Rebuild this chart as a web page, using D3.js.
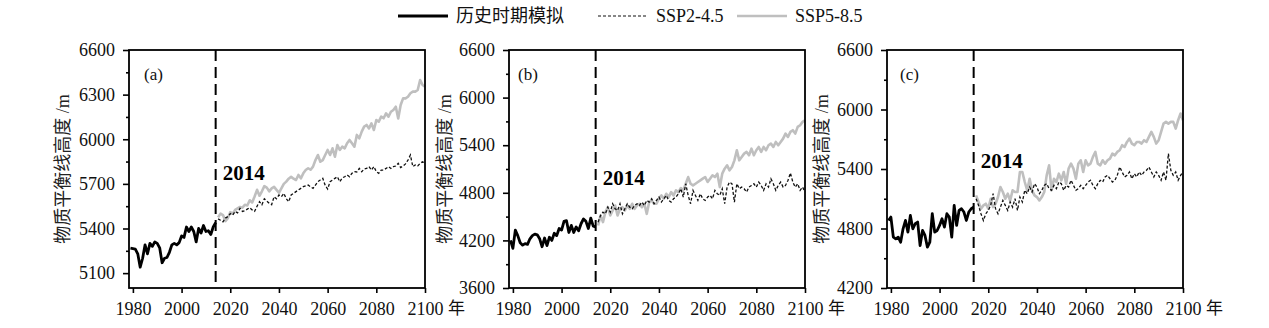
<!DOCTYPE html>
<html><head><meta charset="utf-8">
<script src="https://cdn.jsdelivr.net/npm/d3@7"></script>
<style>body{margin:0;background:#fff;} svg{display:block;}</style>
</head><body>
<svg id="chart" width="1269" height="328"></svg>
<script>
// ---------- data ----------
const histYears = d3.range(1979, 2015);   // 1979..2014
const sspYears  = d3.range(2015, 2101);   // 2015..2100
const xTicks = [1980, 2000, 2020, 2040, 2060, 2080, 2100];

const histA = [5268,5265,5262,5230,5140,5200,5290,5230,5300,5280,5310,5300,5270,5170,5200,5205,5240,5290,5300,5290,5305,5350,5340,5410,5380,5410,5380,5310,5400,5370,5420,5380,5385,5360,5410,5440];
const ssp245A = [5465,5455,5445,5470,5480,5500,5490,5515,5505,5535,
  5515,5520,5530,5540,5525,5515,5550,5580,5560,5600,
  5585,5570,5560,5614,5600,5625,5614,5636,5600,5580,
  5625,5636,5648,5659,5670,5681,5686,5692,5680,5670,
  5692,5715,5726,5737,5690,5665,5715,5726,5737,5748,
  5715,5740,5748,5760,5748,5771,5782,5780,5804,5782,
  5800,5804,5816,5793,5816,5782,5771,5793,5793,5804,
  5816,5804,5816,5820,5838,5810,5820,5834,5860,5894,
  5816,5827,5820,5838,5849,5838];
const ssp585A = [5475,5500,5490,5450,5470,5510,5500,5525,5535,5545,
  5540,5560,5555,5590,5575,5615,5660,5620,5650,5685,
  5675,5650,5670,5680,5660,5640,5670,5700,5715,5735,
  5748,5735,5726,5760,5737,5771,5793,5805,5795,5816,
  5860,5894,5849,5860,5894,5928,5894,5939,5883,5961,
  5928,5950,5939,5973,5995,5973,5950,6029,6006,6051,
  6085,6096,6073,6107,6062,6129,6118,6152,6141,6174,
  6152,6185,6197,6219,6140,6230,6275,6275,6286,6309,
  6320,6320,6331,6398,6365,6353];

const histB = [4200,4100,4330,4260,4170,4140,4160,4150,4220,4260,4280,4270,4220,4120,4230,4135,4240,4200,4290,4260,4350,4330,4440,4450,4300,4390,4300,4370,4320,4410,4470,4440,4350,4480,4380,4370];
const ssp245B = [4430,4514,4556,4535,4619,4556,4662,4598,4577,4662,
  4535,4598,4662,4619,4598,4640,4662,4640,4683,4640,
  4704,4683,4725,4662,4704,4746,4683,4725,4767,4704,
  4683,4725,4746,4788,4851,4746,4914,4767,4662,4830,
  4767,4704,4788,4725,4704,4746,4767,4725,4830,4788,
  4767,4851,4662,4872,4935,4914,4683,4914,4851,4872,
  4851,4809,4872,4893,4914,4872,4935,4893,4830,4914,
  4872,4977,4914,4830,4893,4935,4872,4893,4956,5050,
  4935,4872,4914,4830,4872,4809];
const ssp585B = [4388,4514,4430,4556,4619,4514,4577,4640,4514,4598,
  4619,4577,4640,4598,4662,4598,4640,4662,4619,4662,
  4535,4683,4704,4662,4662,4725,4767,4725,4788,4746,
  4809,4767,4830,4809,4860,4830,4914,4998,4914,4893,
  4914,4936,4957,4978,4999,4936,4978,5020,4999,5041,
  4872,5041,5104,5146,5083,5125,5209,5336,5209,5252,
  5294,5315,5273,5357,5273,5336,5378,5315,5378,5336,
  5399,5420,5378,5441,5399,5441,5483,5546,5504,5568,
  5589,5546,5631,5652,5694,5715];

const histC = [4880,4915,4713,4696,4713,4662,4797,4881,4763,4932,4797,4848,4865,4628,4780,4730,4612,4662,4949,4763,4780,4831,4898,4814,4949,4915,4713,5033,4831,4982,4999,4966,4881,4966,4999,5016];
const ssp245C = [5100,5033,4949,4881,4949,4982,5033,5151,5000,4949,
  5016,5083,5033,4982,5067,5016,5100,4982,5117,5067,
  5185,5151,5218,5168,5252,5218,5151,5185,5235,5252,
  5202,5185,5235,5202,5269,5252,5185,5235,5218,5286,
  5235,5185,5202,5235,5202,5235,5269,5286,5235,5202,
  5252,5286,5269,5320,5336,5302,5269,5286,5336,5420,
  5370,5320,5336,5370,5302,5353,5320,5370,5336,5370,
  5387,5420,5370,5320,5370,5336,5286,5370,5286,5555,
  5387,5336,5370,5286,5336,5370];
const ssp585C = [5134,5067,5000,5033,5050,5000,5100,5016,5050,5117,
  5218,5168,5100,5151,5083,5185,5168,5168,5370,5370,
  5269,5185,5302,5185,5134,5117,5083,5117,5168,5336,
  5437,5185,5302,5269,5353,5286,5370,5252,5404,5454,
  5404,5302,5454,5488,5370,5488,5437,5454,5522,5572,
  5454,5437,5488,5454,5488,5505,5555,5538,5572,5589,
  5640,5623,5673,5707,5656,5640,5673,5673,5656,5690,
  5673,5724,5774,5724,5656,5690,5774,5858,5875,5858,
  5875,5875,5808,5892,5960,5892];

const yTicksA = [5100, 5400, 5700, 6000, 6300, 6600];
const yMinorA = [5250, 5550, 5850, 6150, 6450];
const yTicksB = [3600, 4200, 4800, 5400, 6000, 6600];
const yMinorB = [3900, 4500, 5100, 5700, 6300];
const yTicksC = [4200, 4800, 5400, 6000, 6600];
const yMinorC = [4500, 5100, 5700, 6300];

const panelLabels = ["(a)", "(b)", "(c)"];
const seriesNames = ["历史时期模拟", "SSP2-4.5", "SSP5-8.5"];
const yTitle = "物质平衡线高度 /m";
const splitYear = 2014;

// ---------- layout ----------
const serif = "'Liberation Serif','Times New Roman',serif";
const cjk = "'Liberation Serif','Noto Sans CJK SC',serif";
const TOP = 50, H = 238, W = 296;
const GRAY = "#bfbfbf";

const panels = [
  {left:129, hist:histA, s245:ssp245A, s585:ssp585A, dom:[5000,6600], maj:yTicksA, min:yMinorA, tagV:5726, lab:panelLabels[0], labDx:15, titleDx:-66},
  {left:509, hist:histB, s245:ssp245B, s585:ssp585B, dom:[3600,6600], maj:yTicksB, min:yMinorB, tagV:4893, lab:panelLabels[1], labDx:9,  titleDx:-64},
  {left:887, hist:histC, s245:ssp245C, s585:ssp585C, dom:[4200,6600], maj:yTicksC, min:yMinorC, tagV:5407, lab:panelLabels[2], labDx:13, titleDx:-65}
];

const svg = d3.select("#chart");

panels.forEach(p => {
  const g = svg.append("g").attr("transform", `translate(${p.left},${TOP})`);
  const x = d3.scaleLinear().domain([1978.4, 2100]).range([0, W]);
  const y = d3.scaleLinear().domain(p.dom).range([H, 0]);

  // axes
  const xa = g.append("g").attr("transform", `translate(0,${H})`)
    .call(d3.axisBottom(x).tickValues(xTicks).tickFormat(d3.format("d")).tickSize(5).tickPadding(9));
  const ya = g.append("g")
    .call(d3.axisLeft(y).tickValues(p.maj).tickFormat(d3.format("d")).tickSize(6).tickPadding(8));
  const ym = g.append("g")
    .call(d3.axisLeft(y).tickValues(p.min).tickFormat("").tickSize(3));
  [xa, ya, ym].forEach(a => {
    a.select(".domain").remove();
    a.selectAll("line").attr("stroke", "#000").attr("stroke-width", 1.6);
    a.selectAll("text").attr("font-family", serif).attr("font-size", 18).attr("fill", "#111");
  });

  // 年 after 2100
  g.append("text").attr("x", x(2100) + 23).attr("y", H + 14).attr("dy", "0.71em")
    .attr("font-family", cjk).attr("font-size", 17).attr("fill", "#111").text("年");

  // y title
  g.append("text")
    .attr("transform", `translate(${p.titleDx},${H/2}) rotate(-90)`)
    .attr("text-anchor", "middle").attr("dy", "0.35em")
    .attr("font-family", cjk).attr("font-size", 18).attr("fill", "#222").text(yTitle);

  // series
  const line = d3.line().x(d => x(d[0])).y(d => y(d[1]));
  g.append("path").datum(sspYears.map((yr, i) => [yr, p.s585[i]]))
    .attr("d", line).attr("fill", "none").attr("stroke", GRAY).attr("stroke-width", 2.6)
    .attr("stroke-linejoin", "round");
  g.append("path").datum(sspYears.map((yr, i) => [yr, p.s245[i]]))
    .attr("d", line).attr("fill", "none").attr("stroke", "#111").attr("stroke-width", 1.3)
    .attr("stroke-dasharray", "3,2");
  g.append("path").datum(histYears.map((yr, i) => [yr, p.hist[i]]))
    .attr("d", line).attr("fill", "none").attr("stroke", "#000").attr("stroke-width", 2.8)
    .attr("stroke-linejoin", "round");

  // 2014 split line
  g.append("line").attr("x1", x(splitYear)).attr("x2", x(splitYear))
    .attr("y1", 0).attr("y2", H).attr("stroke", "#000").attr("stroke-width", 2)
    .attr("stroke-dasharray", "11,6");
  g.append("text").attr("x", x(splitYear) + 7).attr("y", y(p.tagV))
    .attr("font-family", serif).attr("font-weight", "bold").attr("font-size", 21)
    .attr("fill", "#000").text(String(splitYear));

  // panel label
  g.append("text").attr("x", p.labDx).attr("y", 30)
    .attr("font-family", serif).attr("font-size", 17).attr("fill", "#111").text(p.lab);

  // frame
  g.append("rect").attr("x", 0).attr("y", 0).attr("width", W).attr("height", H)
    .attr("fill", "none").attr("stroke", "#000").attr("stroke-width", 1.8);
});

// ---------- legend ----------
const leg = svg.append("g").attr("transform", "translate(0,16)");
const legItems = [
  {x:398, stroke:"#000", w:2.8, dash:null, txt:seriesNames[0], font:cjk},
  {x:598, stroke:"#111", w:1.2, dash:"3,2", txt:seriesNames[1], font:serif},
  {x:737, stroke:GRAY,  w:2.6, dash:null, txt:seriesNames[2], font:serif}
];
legItems.forEach(it => {
  leg.append("line").attr("x1", it.x).attr("x2", it.x + 50).attr("y1", 0).attr("y2", 0)
    .attr("stroke", it.stroke).attr("stroke-width", it.w).attr("stroke-dasharray", it.dash);
  leg.append("text").attr("x", it.x + 58).attr("y", 0).attr("dy", "0.35em")
    .attr("font-family", it.font).attr("font-size", 18).attr("fill", "#111").text(it.txt);
});
</script>
</body></html>
